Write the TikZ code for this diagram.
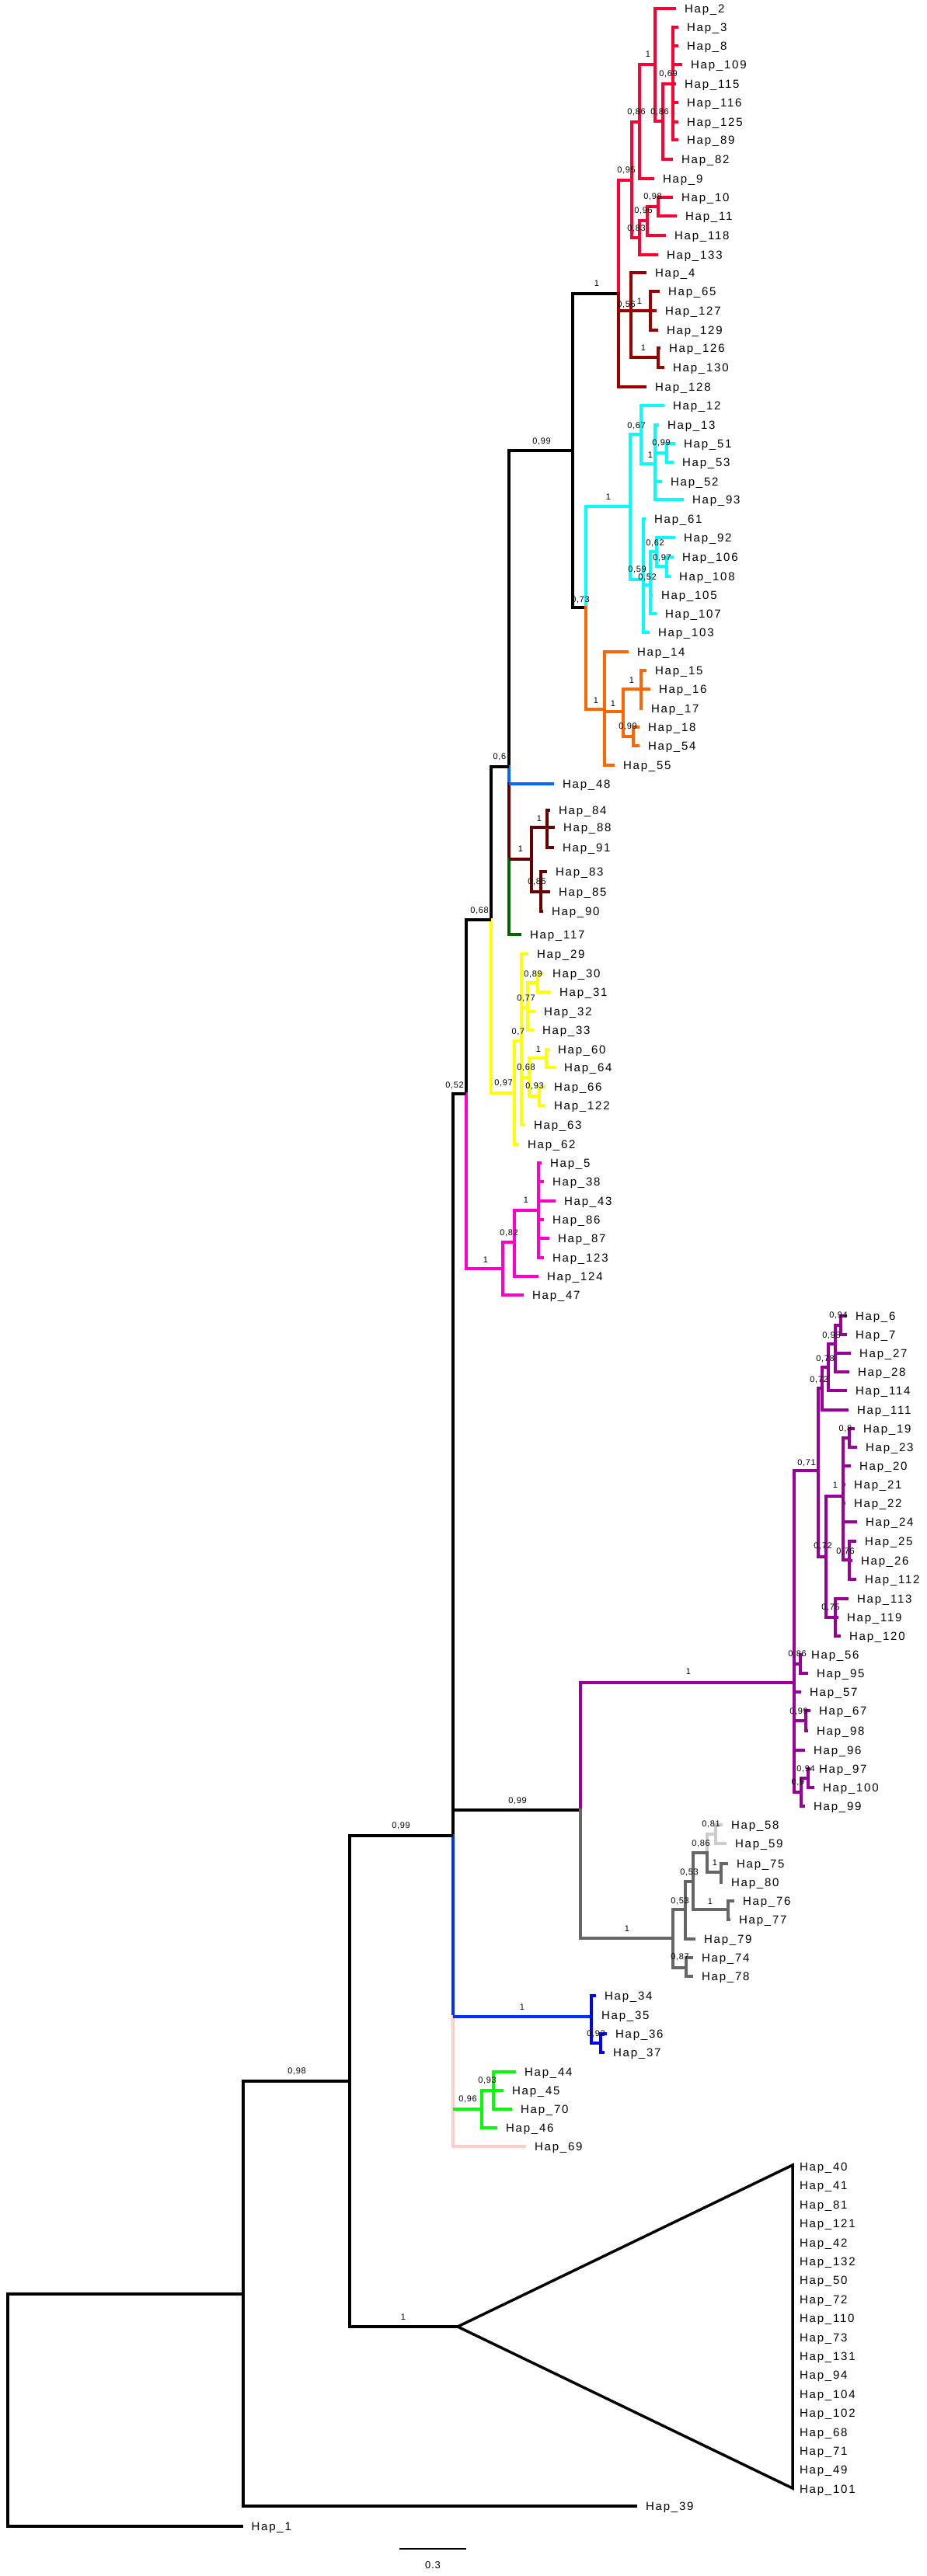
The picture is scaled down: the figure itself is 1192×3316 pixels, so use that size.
\documentclass[tikz,border=0pt]{standalone}
\usepackage{fontspec}
\setmainfont{Liberation Sans}
\newfontfamily\leaffont{Liberation Sans}[LetterSpace=12]
\newfontfamily\supfont{Liberation Sans}[LetterSpace=6]
\definecolor{cred}{RGB}{255,0,51}
\definecolor{cdred}{RGB}{153,0,0}
\definecolor{ccyan}{RGB}{0,255,255}
\definecolor{corange}{RGB}{255,102,0}
\definecolor{cblueA}{RGB}{0,102,255}
\definecolor{cdred2}{RGB}{102,0,0}
\definecolor{cdgreen}{RGB}{0,102,0}
\definecolor{cyellow}{RGB}{255,255,0}
\definecolor{cmag}{RGB}{255,0,204}
\definecolor{cpurple}{RGB}{153,0,153}
\definecolor{cgrey}{RGB}{102,102,102}
\definecolor{clgrey}{RGB}{204,204,204}
\definecolor{cblueB}{RGB}{0,51,255}
\definecolor{cblueC}{RGB}{0,0,255}
\definecolor{cgreen}{RGB}{0,255,0}
\definecolor{cpink}{RGB}{255,204,204}
\newcommand\tbH[4]{\draw[#1] (#2,#4) -- (#3,#4);}
\newcommand\tbV[4]{\draw[#1,line cap=rect] (#2,#3) -- (#2,#4);}
\newcommand\tbL[5]{\draw[#1] (#2,#4) -- (#3,#4); \node[leaflab] (h#5) at ([xshift=9pt]#3,#4) {Hap\_#5};}
\newcommand\tbS[3]{\node[suplab] at (#1,#2) {#3};}
\newcommand\tbT[2]{\node[leaflab] (h#2) at (1027,#1) {Hap\_#2};}
\begin{document}
\begin{tikzpicture}[x=1pt,y=-1pt,line width=4pt,
  leaflab/.style={anchor=west,inner sep=0pt,text height=10.8pt,text depth=0pt,font=\leaffont\fontsize{15}{15}\selectfont},
  suplab/.style={anchor=center,inner sep=0pt,text height=8pt,text depth=0pt,font=\supfont\fontsize{11}{11}\selectfont}]
\fill[white] (0,0) rectangle (1192,3316);
\useasboundingbox (0,0) rectangle (1192,3316);
% ---------- red clade
\tbH{black}{737}{796}{378}
\tbV{cred}{796}{232}{378}
\tbV{cdred}{796}{378}{498}
\tbH{cred}{796}{813}{232}
\tbV{cred}{813}{157}{306}
\tbH{cred}{813}{823}{157}
\tbV{cred}{823}{83}{230}
\tbH{cred}{823}{843}{83}
\tbV{cred}{843}{11}{156}
\tbL{cred}{843}{870}{11}{2}
\tbH{cred}{843}{853}{156}
\tbV{cred}{853}{108}{205}
\tbH{cred}{853}{866}{108}
\tbV{cred}{866}{35}{180}
\tbL{cred}{866}{873}{35}{3}
\tbL{cred}{866}{873}{59}{8}
\tbL{cred}{866}{878}{83}{109}
\tbL{cred}{866}{870}{108}{115}
\tbL{cred}{866}{873}{132}{116}
\tbL{cred}{866}{873}{157}{125}
\tbL{cred}{866}{873}{180}{89}
\tbL{cred}{853}{866}{205}{82}
\tbL{cred}{823}{842}{230}{9}
\tbH{cred}{813}{823}{306}
\tbV{cred}{823}{284}{328}
\tbH{cred}{823}{833}{284}
\tbV{cred}{833}{266}{303}
\tbH{cred}{833}{847}{266}
\tbV{cred}{847}{254}{278}
\tbL{cred}{847}{866}{254}{10}
\tbL{cred}{847}{871}{278}{11}
\tbL{cred}{833}{857}{303}{118}
\tbL{cred}{823}{847}{328}{133}
\tbH{cdred}{796}{812}{400}
\tbV{cdred}{812}{351}{460}
\tbL{cdred}{812}{832}{351}{4}
\tbH{cdred}{812}{837}{400}
\tbV{cdred}{837}{375}{425}
\tbL{cdred}{837}{849}{375}{65}
\tbL{cdred}{837}{845}{400}{127}
\tbL{cdred}{837}{847}{425}{129}
\tbH{cdred}{812}{847}{460}
\tbV{cdred}{847}{448}{473}
\tbL{cdred}{847}{850}{448}{126}
\tbL{cdred}{847}{855}{473}{130}
\tbL{cdred}{796}{832}{498}{128}
\tbS{768}{364}{1}
\tbS{806}{218}{0,95}
\tbS{819}{143}{0,86}
\tbS{834}{70}{1}
\tbS{849}{143}{0,86}
\tbS{860}{95}{0,69}
\tbS{840}{252}{0,98}
\tbS{828}{270}{0,96}
\tbS{819}{293}{0,83}
\tbS{806}{391}{0,56}
\tbS{823}{387}{1}
\tbS{828}{447}{1}
% ---------- J, cyan, orange
\tbV{black}{737}{378}{782}
\tbH{black}{655}{737}{580}
\tbH{black}{737}{754}{782}
\tbV{ccyan}{754}{652}{782}
\tbV{corange}{754}{782}{913}
\tbH{ccyan}{754}{811}{652}
\tbV{ccyan}{811}{559}{746}
\tbH{ccyan}{811}{825}{559}
\tbV{ccyan}{825}{522}{597}
\tbL{ccyan}{825}{855}{522}{12}
\tbH{ccyan}{825}{843}{597}
\tbV{ccyan}{843}{547}{643}
\tbL{ccyan}{843}{848}{547}{13}
\tbH{ccyan}{843}{858}{583}
\tbV{ccyan}{858}{571}{595}
\tbL{ccyan}{858}{869}{571}{51}
\tbL{ccyan}{858}{867}{595}{53}
\tbL{ccyan}{843}{852}{620}{52}
\tbL{ccyan}{843}{880}{643}{93}
\tbH{ccyan}{811}{828}{746}
\tbV{ccyan}{828}{668}{814}
\tbL{ccyan}{828}{831}{668}{61}
\tbH{ccyan}{828}{837}{753}
\tbV{ccyan}{837}{710}{790}
\tbH{ccyan}{837}{845}{710}
\tbV{ccyan}{845}{692}{729}
\tbL{ccyan}{845}{869}{692}{92}
\tbH{ccyan}{845}{858}{729}
\tbV{ccyan}{858}{717}{742}
\tbL{ccyan}{858}{867}{717}{106}
\tbL{ccyan}{858}{863}{742}{108}
\tbL{ccyan}{837}{840}{766}{105}
\tbL{ccyan}{837}{845}{790}{107}
\tbL{ccyan}{828}{836}{814}{103}
\tbH{corange}{754}{778}{913}
\tbV{corange}{778}{839}{985}
\tbL{corange}{778}{809}{839}{14}
\tbH{corange}{778}{802}{916}
\tbV{corange}{802}{887}{948}
\tbH{corange}{802}{825}{887}
\tbV{corange}{825}{863}{912}
\tbL{corange}{825}{832}{863}{15}
\tbL{corange}{825}{837}{887}{16}
\tbL{corange}{825}{827}{912}{17}
\tbH{corange}{802}{815}{948}
\tbV{corange}{815}{936}{960}
\tbL{corange}{815}{823}{936}{18}
\tbL{corange}{815}{823}{960}{54}
\tbL{corange}{778}{791}{985}{55}
\tbS{697}{567}{0,99}
\tbS{783}{639}{1}
\tbS{819}{547}{0,67}
\tbS{837}{585}{1}
\tbS{851}{569}{0,99}
\tbS{820}{732}{0,59}
\tbS{833}{742}{0,52}
\tbS{843}{698}{0,62}
\tbS{852}{717}{0,97}
\tbS{747}{771}{0,73}
\tbS{767}{901}{1}
\tbS{813}{875}{1}
\tbS{789}{905}{1}
\tbS{808}{934}{0,99}
% ---------- I
\tbV{black}{655}{580}{987}
\tbV{cblueA}{655}{987}{1009}
\tbV{cdred2}{655}{1009}{1106}
\tbV{cdgreen}{655}{1106}{1203}
\tbH{black}{632}{655}{987}
\tbL{cblueA}{655}{713}{1009}{48}
\tbH{cdred2}{655}{684}{1106}
\tbV{cdred2}{684}{1065}{1148}
\tbH{cdred2}{684}{704}{1065}
\tbV{cdred2}{704}{1043}{1091}
\tbL{cdred2}{704}{708}{1043}{84}
\tbL{cdred2}{704}{714}{1065}{88}
\tbL{cdred2}{704}{713}{1091}{91}
\tbV{cdred2}{696}{1122}{1173}
\tbL{cdred2}{696}{704}{1122}{83}
\tbL{cdred2}{684}{708}{1148}{85}
\tbL{cdred2}{696}{699}{1173}{90}
\tbL{cdgreen}{655}{671}{1203}{117}
\tbS{643}{973}{0,6}
\tbS{670}{1092}{1}
\tbS{694}{1053}{1}
\tbS{691}{1134}{0,85}
% ---------- H, yellow
\tbV{black}{632}{987}{1184}
\tbV{cyellow}{632}{1184}{1407}
\tbH{black}{600}{632}{1184}
\tbH{cyellow}{632}{662}{1407}
\tbV{cyellow}{662}{1340}{1473}
\tbL{cyellow}{662}{668}{1473}{62}
\tbH{cyellow}{662}{671}{1340}
\tbV{cyellow}{671}{1228}{1448}
\tbL{cyellow}{671}{680}{1228}{29}
\tbH{cyellow}{671}{679}{1297}
\tbV{cyellow}{679}{1265}{1326}
\tbH{cyellow}{679}{692}{1265}
\tbV{cyellow}{692}{1253}{1277}
\tbL{cyellow}{692}{700}{1253}{30}
\tbL{cyellow}{692}{709}{1277}{31}
\tbL{cyellow}{679}{689}{1302}{32}
\tbL{cyellow}{679}{687}{1326}{33}
\tbH{cyellow}{671}{681}{1387}
\tbV{cyellow}{681}{1362}{1411}
\tbH{cyellow}{681}{703}{1362}
\tbV{cyellow}{703}{1351}{1374}
\tbL{cyellow}{703}{707}{1351}{60}
\tbL{cyellow}{703}{715}{1374}{64}
\tbH{cyellow}{681}{694}{1411}
\tbV{cyellow}{694}{1399}{1423}
\tbL{cyellow}{694}{702}{1399}{66}
\tbL{cyellow}{694}{702}{1423}{122}
\tbL{cyellow}{671}{676}{1448}{63}
\tbS{617}{1171}{0,68}
\tbS{648}{1393}{0,97}
\tbS{667}{1327}{0,7}
\tbS{677}{1284}{0,77}
\tbS{686}{1253}{0,89}
\tbS{677}{1373}{0,68}
\tbS{693}{1350}{1}
\tbS{688}{1397}{0,93}
% ---------- D, magenta
\tbV{black}{600}{1184}{1408}
\tbV{cmag}{600}{1408}{1633}
\tbH{black}{583}{600}{1408}
\tbH{cmag}{600}{647}{1633}
\tbV{cmag}{647}{1599}{1667}
\tbH{cmag}{647}{662}{1599}
\tbV{cmag}{662}{1558}{1643}
\tbH{cmag}{662}{693}{1558}
\tbV{cmag}{693}{1497}{1619}
\tbL{cmag}{693}{697}{1497}{5}
\tbL{cmag}{693}{700}{1521}{38}
\tbL{cmag}{693}{715}{1546}{43}
\tbL{cmag}{693}{700}{1570}{86}
\tbL{cmag}{693}{707}{1594}{87}
\tbL{cmag}{693}{700}{1619}{123}
\tbL{cmag}{662}{693}{1643}{124}
\tbL{cmag}{647}{674}{1667}{47}
\tbS{585}{1396}{0,52}
\tbS{625}{1621}{1}
\tbS{655}{1586}{0,82}
\tbS{677}{1544}{1}
% ---------- C
\tbV{black}{583}{1408}{2363}
\tbV{cblueB}{583}{2363}{2596}
\tbV{cpink}{583}{2596}{2763}
\tbH{black}{449.5}{583}{2363}
\tbH{black}{583}{747}{2330}
\tbS{516}{2349}{0,99}
\tbS{666}{2317}{0,99}
% ---------- purple
\tbV{cpurple}{747}{2166}{2330}
\tbH{cpurple}{747}{1022}{2166}
\tbV{cpurple}{1022}{1893}{2307}
\tbH{cpurple}{1022}{1053}{1893}
\tbV{cpurple}{1053}{1787}{2004}
\tbH{cpurple}{1053}{1058}{1787}
\tbV{cpurple}{1058}{1760}{1815}
\tbL{cpurple}{1058}{1092}{1815}{111}
\tbH{cpurple}{1058}{1066}{1760}
\tbV{cpurple}{1066}{1730}{1790}
\tbL{cpurple}{1066}{1090}{1790}{114}
\tbH{cpurple}{1066}{1075}{1730}
\tbV{cpurple}{1075}{1706}{1766}
\tbL{cpurple}{1075}{1095}{1742}{27}
\tbL{cpurple}{1075}{1093}{1766}{28}
\tbH{cpurple}{1075}{1082}{1706}
\tbV{cpurple}{1082}{1694}{1718}
\tbL{cpurple}{1082}{1090}{1694}{6}
\tbL{cpurple}{1082}{1090}{1718}{7}
\tbH{cpurple}{1053}{1063}{2004}
\tbV{cpurple}{1063}{1926}{2082}
\tbH{cpurple}{1063}{1085}{1926}
\tbV{cpurple}{1085}{1851}{2008}
\tbH{cpurple}{1085}{1093}{1851}
\tbV{cpurple}{1093}{1839}{1863}
\tbL{cpurple}{1093}{1100}{1839}{19}
\tbL{cpurple}{1093}{1103}{1863}{23}
\tbL{cpurple}{1085}{1095}{1887}{20}
\tbL{cpurple}{1085}{1088}{1911}{21}
\tbL{cpurple}{1085}{1088}{1935}{22}
\tbL{cpurple}{1085}{1103}{1959}{24}
\tbH{cpurple}{1085}{1093}{2008}
\tbV{cpurple}{1093}{1984}{2033}
\tbL{cpurple}{1093}{1102}{1984}{25}
\tbL{cpurple}{1093}{1097}{2009}{26}
\tbL{cpurple}{1093}{1102}{2033}{112}
\tbH{cpurple}{1063}{1075}{2082}
\tbV{cpurple}{1075}{2058}{2106}
\tbL{cpurple}{1075}{1092}{2058}{113}
\tbL{cpurple}{1075}{1079}{2082}{119}
\tbL{cpurple}{1075}{1082}{2106}{120}
\tbH{cpurple}{1022}{1030}{2142}
\tbV{cpurple}{1030}{2130}{2154}
\tbL{cpurple}{1030}{1033}{2130}{56}
\tbL{cpurple}{1030}{1040}{2154}{95}
\tbL{cpurple}{1022}{1031}{2178}{57}
\tbH{cpurple}{1022}{1037}{2215}
\tbV{cpurple}{1037}{2202}{2228}
\tbL{cpurple}{1037}{1043}{2202}{67}
\tbL{cpurple}{1037}{1040}{2228}{98}
\tbL{cpurple}{1022}{1036}{2253}{96}
\tbH{cpurple}{1022}{1031}{2307}
\tbV{cpurple}{1031}{2289}{2325}
\tbH{cpurple}{1031}{1040}{2289}
\tbV{cpurple}{1040}{2277}{2301}
\tbL{cpurple}{1040}{1043}{2277}{97}
\tbL{cpurple}{1040}{1048}{2301}{100}
\tbL{cpurple}{1031}{1036}{2325}{99}
\tbS{886}{2151}{1}
\tbS{1038}{1882}{0,71}
\tbS{1059}{1989}{0,72}
\tbS{1075}{1911}{1}
\tbS{1088}{1996}{0,76}
\tbS{1069}{2068}{0,75}
\tbS{1026}{2128}{0,86}
\tbS{1028}{2202}{0,99}
\tbS{1037}{2276}{0,94}
\tbS{1027}{2293}{0,9}
\tbS{1079}{1692}{0,94}
\tbS{1070}{1718}{0,98}
\tbS{1062}{1748}{0,78}
\tbS{1054}{1775}{0,72}
\tbS{1088}{1838}{0,8}
% ---------- grey
\tbV{cgrey}{747}{2330}{2495}
\tbH{cgrey}{747}{866}{2495}
\tbV{cgrey}{866}{2458}{2533}
\tbH{cgrey}{866}{882}{2458}
\tbV{cgrey}{882}{2422}{2496}
\tbL{cgrey}{882}{895}{2496}{79}
\tbH{cgrey}{882}{892}{2422}
\tbV{cgrey}{892}{2385}{2458}
\tbH{cgrey}{892}{937}{2458}
\tbV{cgrey}{937}{2447}{2471}
\tbL{cgrey}{937}{945}{2447}{76}
\tbL{cgrey}{937}{940}{2471}{77}
\tbH{cgrey}{892}{910}{2385}
\tbV{clgrey}{910}{2361}{2385}
\tbV{cgrey}{910}{2385}{2410}
\tbH{clgrey}{910}{921}{2361}
\tbV{clgrey}{921}{2349}{2373}
\tbL{clgrey}{921}{930}{2349}{58}
\tbL{clgrey}{921}{935}{2373}{59}
\tbH{cgrey}{910}{928}{2410}
\tbV{cgrey}{928}{2399}{2423}
\tbL{cgrey}{928}{937}{2399}{75}
\tbL{cgrey}{928}{930}{2423}{80}
\tbH{cgrey}{866}{883}{2533}
\tbV{cgrey}{883}{2520}{2544}
\tbL{cgrey}{883}{892}{2520}{74}
\tbL{cgrey}{883}{892}{2544}{78}
\tbS{807}{2482}{1}
\tbS{915}{2347}{0,81}
\tbS{902}{2372}{0,86}
\tbS{920}{2397}{1}
\tbS{887}{2409}{0,53}
\tbS{875}{2446}{0,53}
\tbS{914}{2447}{1}
\tbS{875}{2518}{0,87}
% ---------- blue, green, pink
\tbH{cblueB}{583}{761}{2596}
\tbV{cblueC}{761}{2569}{2630}
\tbL{cblueC}{761}{767}{2569}{34}
\tbL{cblueC}{761}{763}{2594}{35}
\tbH{cblueC}{761}{773}{2630}
\tbV{cblueC}{773}{2618}{2642}
\tbL{cblueC}{773}{781}{2618}{36}
\tbL{cblueC}{773}{778}{2642}{37}
\tbH{cgreen}{583}{620}{2715}
\tbV{cgreen}{620}{2691}{2739}
\tbH{cgreen}{620}{635}{2691}
\tbV{cgreen}{635}{2667}{2715}
\tbL{cgreen}{635}{664}{2667}{44}
\tbL{cgreen}{635}{648}{2691}{45}
\tbL{cgreen}{635}{659}{2715}{70}
\tbL{cgreen}{620}{640}{2739}{46}
\tbL{cpink}{583}{677}{2763}{69}
\tbS{672}{2583}{1}
\tbS{767}{2617}{0,92}
\tbS{602}{2701}{0,96}
\tbS{627}{2677}{0,93}
% ---------- base
\tbV{black}{449.5}{2363}{2995}
\tbH{black}{449.5}{589}{2995}
\draw[black,line width=3.5pt,line join=miter] (589,2995) -- (1020,2787) -- (1020,3203) -- cycle;
\tbT{2789}{40}
\tbT{2813.5}{41}
\tbT{2838}{81}
\tbT{2862.5}{121}
\tbT{2887}{42}
\tbT{2911}{132}
\tbT{2935.5}{50}
\tbT{2960}{72}
\tbT{2984.5}{110}
\tbT{3009}{73}
\tbT{3033}{131}
\tbT{3057.5}{94}
\tbT{3082}{104}
\tbT{3106.5}{102}
\tbT{3131}{68}
\tbT{3155}{71}
\tbT{3179.5}{49}
\tbT{3204}{101}
\tbH{black}{312.5}{449.5}{2679}
\tbV{black}{312.5}{2679}{3226}
\tbL{black}{312.5}{820}{3226}{39}
\tbH{black}{10}{312.5}{2953}
\tbV{black}{10}{2953}{3252}
\tbL{black}{10}{312.5}{3252}{1}
\tbS{382}{2665}{0,98}
\tbS{519}{2982}{1}
\draw[black,line width=2pt] (514,3281) coordinate (sb1) -- (600,3281) coordinate (sb2);
\node[suplab,font=\supfont\fontsize{13}{13}\selectfont] (sbl) at (557,3302) {0.3};
\end{tikzpicture}
\end{document}
